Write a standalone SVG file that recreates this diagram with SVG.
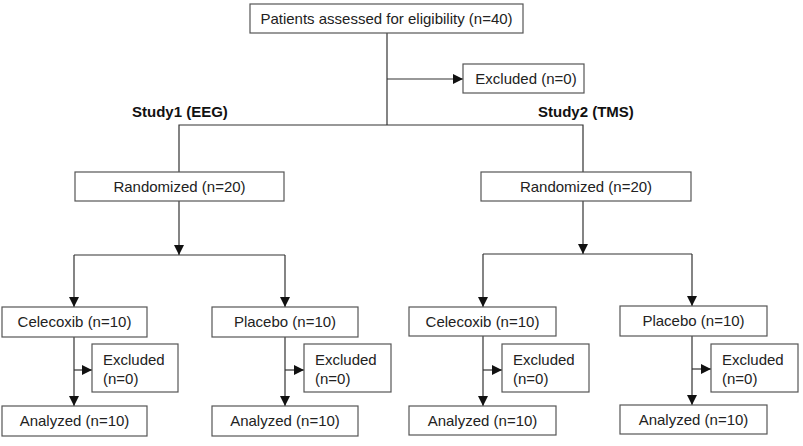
<svg xmlns="http://www.w3.org/2000/svg" width="803" height="446" viewBox="0 0 803 446">
<defs>
<marker id="ah" viewBox="0 0 10 10" refX="10" refY="5" markerWidth="10" markerHeight="10" markerUnits="userSpaceOnUse" orient="auto">
<path d="M0,0 L10,5 L0,10 z" fill="#111"/>
</marker>
<style>
rect{fill:#fff;stroke:#555;stroke-width:1.2}
text{font-family:"Liberation Sans",Arial,sans-serif;font-size:15px;fill:#222}
.c{text-anchor:middle}
.b{font-weight:bold;fill:#111}
#connectors path{fill:none;stroke:#333;stroke-width:1.2}
.a{marker-end:url(#ah)}
</style>
</defs>
<rect x="0" y="0" width="803" height="446" style="fill:#fff;stroke:none"/>
<g id="connectors">
<path d="M387,33 V125"/>
<path class="a" d="M387,79 H463"/>
<path d="M179,172 V125 H583 V172"/>
<path class="a" d="M179,201 V255"/>
<path class="a" d="M74,255 V307"/>
<path d="M74,255 H285"/>
<path class="a" d="M285,255 V307"/>
<path class="a" d="M583,201 V254"/>
<path d="M483,254 H692"/>
<path class="a" d="M483,254 V307"/>
<path class="a" d="M692,254 V306"/>
<path class="a" d="M74,337 V406"/>
<path class="a" d="M74,370 H92"/>
<path class="a" d="M285,337 V406"/>
<path class="a" d="M285,370 H304"/>
<path class="a" d="M483,336 V406"/>
<path class="a" d="M483,370 H502"/>
<path class="a" d="M692,336 V405"/>
<path class="a" d="M692,369 H711"/>
</g>
<g id="n-assessed"><rect x="250" y="4" width="273" height="29"/><text class="c" x="386.5" y="24">Patients assessed for eligibility (n=40)</text></g>
<g id="n-excluded-top"><rect x="463" y="64" width="121" height="29"/><text class="c" x="526" y="84">Excluded (n=0)</text></g>
<g id="n-study1"><text class="b" x="132" y="117">Study1 (EEG)</text></g>
<g id="n-study2"><text class="b" x="538" y="117">Study2 (TMS)</text></g>
<g id="n-rand1"><rect x="75" y="172" width="209" height="29"/><text class="c" x="179.5" y="192">Randomized (n=20)</text></g>
<g id="n-rand2"><rect x="481" y="172" width="210" height="29"/><text class="c" x="586" y="192">Randomized (n=20)</text></g>
<g id="n-cel1"><rect x="2" y="307" width="145" height="30"/><text class="c" x="74.5" y="327">Celecoxib (n=10)</text></g>
<g id="n-pla1"><rect x="212" y="307" width="146" height="30"/><text class="c" x="285" y="327">Placebo (n=10)</text></g>
<g id="n-cel2"><rect x="409" y="307" width="147" height="29"/><text class="c" x="482.5" y="327">Celecoxib (n=10)</text></g>
<g id="n-pla2"><rect x="620" y="306" width="147" height="30"/><text class="c" x="693.5" y="326">Placebo (n=10)</text></g>
<g id="n-exc1"><rect x="92" y="344" width="86" height="48"/><text x="103" y="365">Excluded</text><text x="103" y="384">(n=0)</text></g>
<g id="n-exc2"><rect x="304" y="344" width="87" height="48"/><text x="315" y="365">Excluded</text><text x="315" y="384">(n=0)</text></g>
<g id="n-exc3"><rect x="502" y="344" width="87" height="48"/><text x="513" y="365">Excluded</text><text x="513" y="384">(n=0)</text></g>
<g id="n-exc4"><rect x="711" y="344" width="87" height="48"/><text x="722" y="365">Excluded</text><text x="722" y="384">(n=0)</text></g>
<g id="n-ana1"><rect x="2" y="406" width="145" height="30"/><text class="c" x="74.5" y="426">Analyzed (n=10)</text></g>
<g id="n-ana2"><rect x="212" y="406" width="146" height="30"/><text class="c" x="285" y="426">Analyzed (n=10)</text></g>
<g id="n-ana3"><rect x="409" y="406" width="147" height="29"/><text class="c" x="482.5" y="426">Analyzed (n=10)</text></g>
<g id="n-ana4"><rect x="620" y="405" width="147" height="29"/><text class="c" x="693.5" y="425">Analyzed (n=10)</text></g>
</svg>
